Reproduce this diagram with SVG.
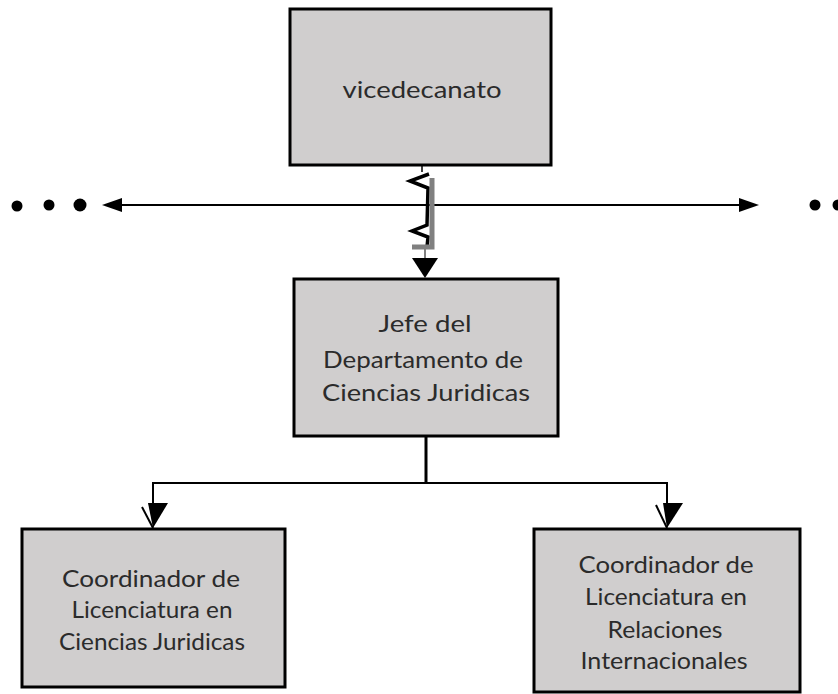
<svg xmlns="http://www.w3.org/2000/svg" width="838" height="694" viewBox="0 0 838 694">
<style>
.box{fill:#d0cece;stroke:#000;stroke-width:3}
.t{font-family:Lato,"Open Sans","Liberation Sans",sans-serif;fill:#2b2b2b;text-anchor:middle;font-size:23px}
.ln{fill:none;stroke:#000;stroke-width:2}
</style>
<rect width="838" height="694" fill="#fff"/>
<g id="connectors">
  <line class="ln" x1="118" y1="205" x2="742" y2="205"/>
  <polygon points="102,205 122,198 122,212" fill="#000"/>
  <polygon points="759,205 739,198 739,212" fill="#000"/>
  <circle cx="17" cy="206" r="5.5" fill="#000"/>
  <circle cx="49" cy="205" r="5.5" fill="#000"/>
  <circle cx="80" cy="205" r="6.5" fill="#000"/>
  <circle cx="815" cy="205" r="5.5" fill="#000"/>
  <circle cx="838" cy="205" r="5.5" fill="#000"/>
  <line x1="422" y1="165" x2="422" y2="172" stroke="#000" stroke-width="1.5"/>
  <polyline points="429,174 410,181 428,188 427,225 412,231 428,237 427,247" fill="none" stroke="#000" stroke-width="3.5"/>
  <polyline points="432,178 432,247 412,247" fill="none" stroke="#808080" stroke-width="5"/>
  <line x1="425" y1="249" x2="425" y2="262" stroke="#808080" stroke-width="2"/>
  <polygon points="412,258 438,258 425,278" fill="#000"/>
  <line x1="426" y1="437" x2="426" y2="483" stroke="#000" stroke-width="3"/>
  <polyline class="ln" points="153,508 153,483 667,483 667,508"/>
  <polygon points="148,503 168,503 153,528" fill="#000"/>
  <line x1="142" y1="507" x2="153" y2="528" stroke="#000" stroke-width="2"/>
  <polygon points="663,503 683,503 667,528" fill="#000"/>
  <line x1="656" y1="505" x2="667" y2="528" stroke="#000" stroke-width="2"/>
</g>
<g id="vicedecanato">
  <rect class="box" x="290" y="9" width="261" height="156"/>
  <text class="t" x="422" y="98" font-size="27" textLength="159" lengthAdjust="spacingAndGlyphs">vicedecanato</text>
</g>
<g id="jefe">
  <rect class="box" x="294" y="279" width="264" height="157"/>
  <text class="t" x="425" y="332" font-size="27" textLength="93" lengthAdjust="spacingAndGlyphs">Jefe del</text>
  <text class="t" x="423" y="368" font-size="23" textLength="200" lengthAdjust="spacingAndGlyphs">Departamento de</text>
  <text class="t" x="426" y="401" font-size="26" textLength="208" lengthAdjust="spacingAndGlyphs">Ciencias Juridicas</text>
</g>
<g id="coord-cj">
  <rect class="box" x="22" y="529" width="263" height="158"/>
  <text class="t" x="151" y="587" textLength="178" lengthAdjust="spacingAndGlyphs">Coordinador  de</text>
  <text class="t" x="152" y="618" textLength="161" lengthAdjust="spacingAndGlyphs">Licenciatura en</text>
  <text class="t" x="152" y="650" textLength="186" lengthAdjust="spacingAndGlyphs">Ciencias Juridicas</text>
</g>
<g id="coord-ri">
  <rect class="box" x="534" y="529" width="266" height="163"/>
  <text class="t" x="666" y="573" textLength="175" lengthAdjust="spacingAndGlyphs">Coordinador  de</text>
  <text class="t" x="666" y="605" textLength="162" lengthAdjust="spacingAndGlyphs">Licenciatura en</text>
  <text class="t" x="665" y="638" textLength="115" lengthAdjust="spacingAndGlyphs">Relaciones</text>
  <text class="t" x="664" y="669" textLength="167" lengthAdjust="spacingAndGlyphs">Internacionales</text>
</g>
</svg>
